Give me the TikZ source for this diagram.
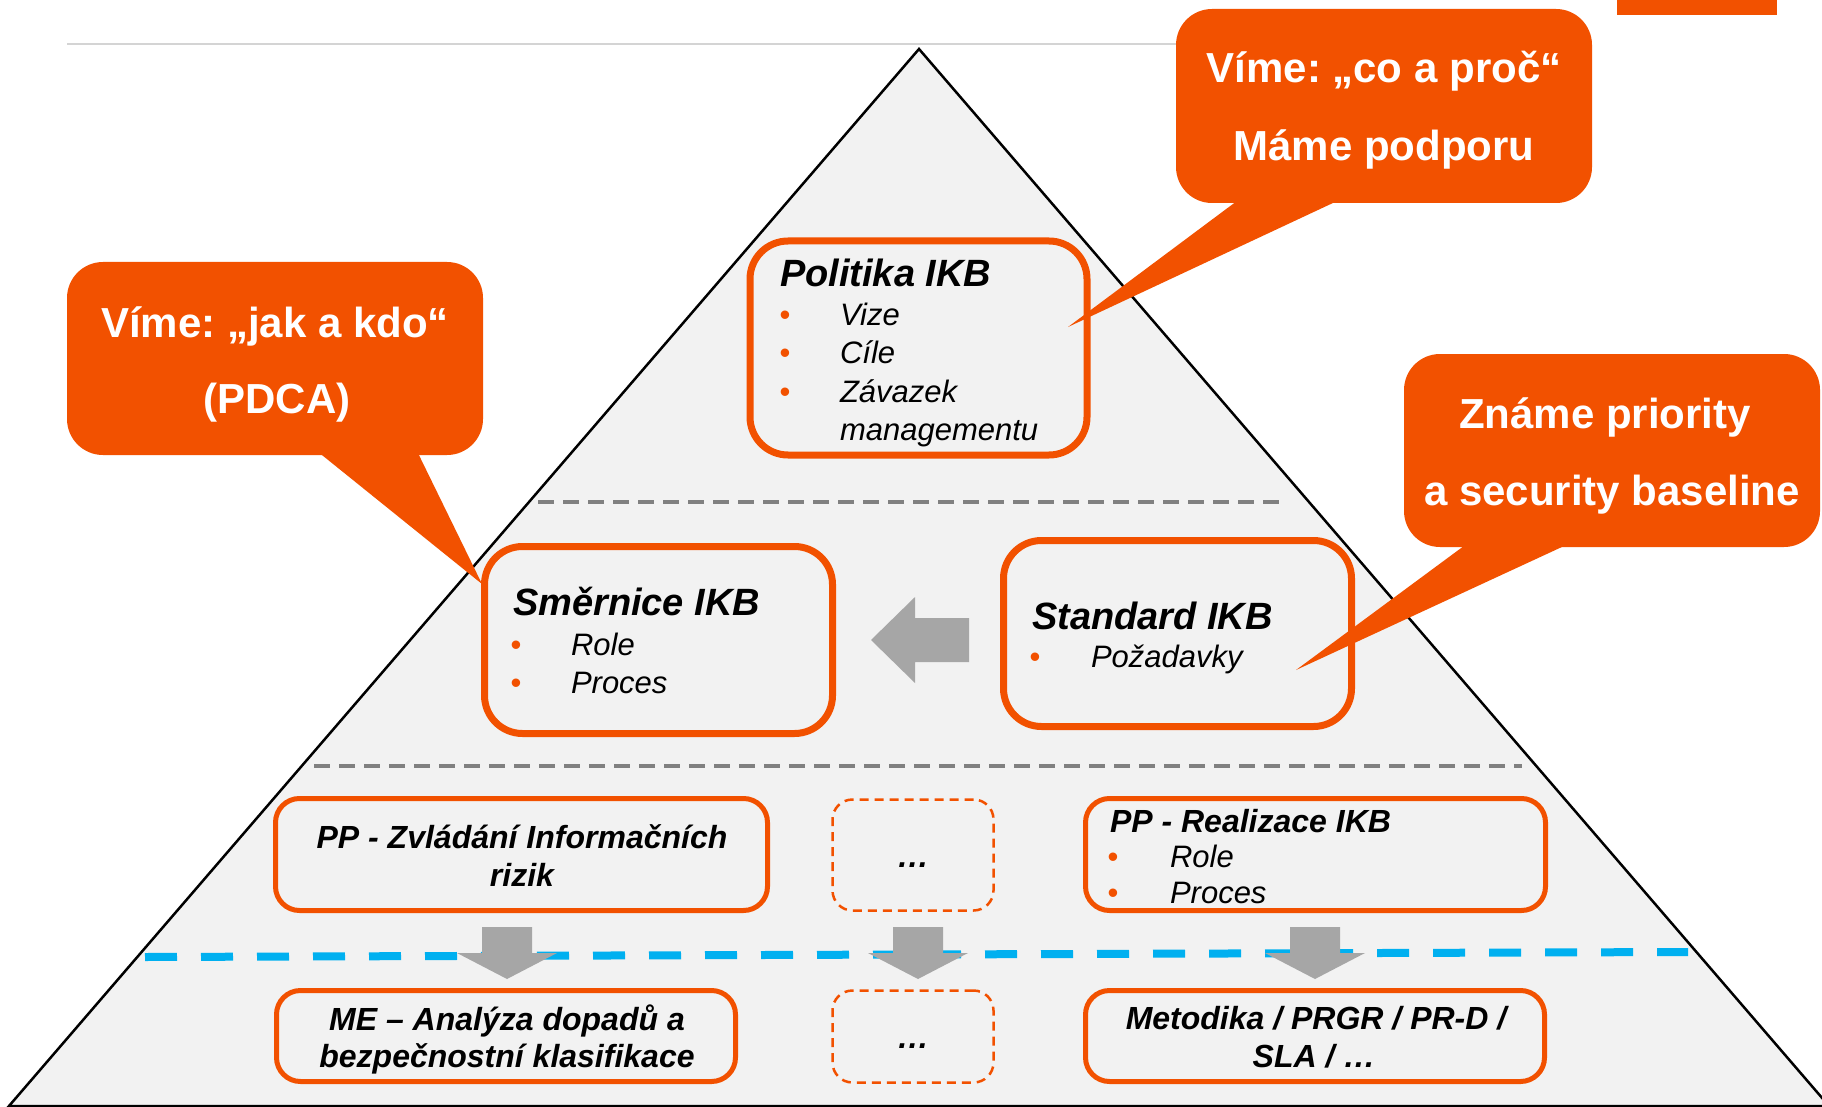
\documentclass[tikz,border=0pt]{standalone}
\usepackage{fontspec}
\setmainfont{Liberation Sans}
\frenchspacing
\definecolor{ikbor}{HTML}{F25100}
\definecolor{pyrfill}{HTML}{F2F2F2}
\definecolor{arrgray}{HTML}{A6A6A6}
\definecolor{dashgray}{HTML}{808080}
\definecolor{ikbblue}{HTML}{00B0F0}
\definecolor{topline}{HTML}{D4D4D4}
\newcommand\fCall{\fontsize{42}{50}\selectfont\bfseries\color{white}}
\newcommand\fTitle{\fontsize{38}{45}\selectfont\bfseries\itshape}
\newcommand\fItem{\fontsize{31}{37}\selectfont\itshape}
\newcommand\fBox{\fontsize{32}{38}\selectfont\bfseries\itshape}
\newcommand\fBul{\fontsize{31}{37}\selectfont\color{ikbor}}
\begin{document}
\begin{tikzpicture}[x=1pt,y=-1pt,
  every node/.style={inner sep=0pt, outer sep=0pt},
  obox/.style={draw=ikbor, line width=7pt, fill=pyrfill, rounded corners=38pt},
  sbox/.style={draw=ikbor, line width=5pt, fill=pyrfill, rounded corners=24pt},
  dbox/.style={draw=ikbor, line width=2.5pt, dash pattern=on 9pt off 6pt, rounded corners=20pt},
  callout/.style={fill=ikbor, rounded corners=36pt},
  txt/.style={anchor=base west},
  ctxt/.style={anchor=base},
  bul/.style={anchor=base}]
\useasboundingbox (0,0) rectangle (1822,1107);
\clip (0,0) rectangle (1822,1107);
\fill[white] (0,0) rectangle (1822,1107);
% top decorations
\draw[topline, line width=2.5pt] (67,44) -- (1190,44);
\fill[ikbor] (1617,0) rectangle (1777,15);
% pyramid
\draw[fill=pyrfill, line width=2.5pt, line join=miter] (919,49) -- (9,1106) -- (1829,1106) -- cycle;
% level separators
\draw[dashgray, line width=3.5pt, dash pattern=on 16pt off 9pt] (538,502) -- (1284,502);
\draw[dashgray, line width=3.5pt, dash pattern=on 16pt off 9pt] (314,766) -- (1522,766);
% boxes
\node[obox, minimum width=337pt, minimum height=214pt] (pol) at (918.5,348) {};
\node[obox, minimum width=348pt, minimum height=187pt] (sme) at (658.5,640) {};
\node[obox, minimum width=348pt, minimum height=186pt] (std) at (1177.5,633.5) {};
\node[sbox, minimum width=492pt, minimum height=112pt] (pp1) at (521.5,854.5) {};
\node[dbox, minimum width=161pt, minimum height=111pt] (pp2) at (913,855) {};
\node[sbox, minimum width=460pt, minimum height=112pt] (pp3) at (1315.5,854.5) {};
\node[sbox, minimum width=459pt, minimum height=91pt] (me1) at (506,1036) {};
\node[dbox, minimum width=161pt, minimum height=92pt] (me2) at (913,1036.5) {};
\node[sbox, minimum width=459pt, minimum height=91pt] (me3) at (1315,1036) {};
% left block arrow standard -> smernice
\fill[arrgray] (871,640) -- (915,597) -- (915,618) -- (969,618) -- (969,662) -- (915,662) -- (915,683) -- cycle;
% blue dashed line
\draw[ikbblue, line width=8pt, dash pattern=on 32pt off 24pt] (145,957) -- (1688,952);
% down arrows
\foreach \cx in {507,918,1315}{
  \fill[arrgray] (\cx-25,927) -- (\cx+25,927) -- (\cx+25,953) -- (\cx+50,953) -- (\cx,979) -- (\cx-50,953) -- (\cx-25,953) -- cycle;
}
% Politika text
\node[txt] (polt) at (780,287) {\fTitle Politika IKB};
\node[bul] (polb1) at (785,325) {\fBul •};
\node[bul] (polb2) at (785,363) {\fBul •};
\node[bul] (polb3) at (785,402) {\fBul •};
\node[txt] (poli1) at (840,325) {\fItem Vize};
\node[txt] (poli2) at (840,363) {\fItem Cíle};
\node[txt] (poli3) at (840,402) {\fItem Závazek};
\node[txt] (poli4) at (840,440) {\fItem managementu};
% Smernice text
\node[txt] (smet) at (513,615) {\fTitle Směrnice IKB};
\node[bul] (smeb1) at (516,655) {\fBul •};
\node[bul] (smeb2) at (516,693) {\fBul •};
\node[txt] (smei1) at (571,655) {\fItem Role};
\node[txt] (smei2) at (571,693) {\fItem Proces};
% Standard text
\node[txt] (stdt) at (1032,629) {\fTitle Standard IKB};
\node[bul] (stdb1) at (1035,667) {\fBul •};
\node[txt] (stdi1) at (1091,667) {\fItem Požadavky};
% bottom row texts
\node[ctxt] (pp1a) at (522,848) {\fBox PP - Zvládání Informačních};
\node[ctxt] (pp1b) at (522,886) {\fBox rizik};
\node[ctxt] (pp2a) at (913,867) {\fBox …};
\node[txt] (pp3t) at (1110,832) {\fBox PP - Realizace IKB};
\node[bul] (pp3b1) at (1113,867) {\fBul •};
\node[bul] (pp3b2) at (1113,903) {\fBul •};
\node[txt] (pp3i1) at (1170,867) {\fItem Role};
\node[txt] (pp3i2) at (1170,903) {\fItem Proces};
\node[ctxt] (me1a) at (507,1030) {\fBox ME – Analýza dopadů a};
\node[ctxt] (me1b) at (507,1067) {\fBox bezpečnostní klasifikace};
\node[ctxt] (me2a) at (913,1048) {\fBox …};
\node[ctxt] (me3a) at (1316,1029) {\fBox Metodika / PRGR / PR-D /};
\node[ctxt] (me3b) at (1314,1067) {\fBox SLA / …};
% callouts
\node[callout, minimum width=416pt, minimum height=194pt] (c1) at (1384,106) {};
\fill[ikbor] (1245,195) -- (1350,195) -- (1068,327) -- cycle;
\node[ctxt] (c1a) at (1384,83) {\fCall Víme: „co a proč“};
\node[ctxt] (c1b) at (1384,161) {\fCall Máme podporu};
\node[callout, minimum width=416pt, minimum height=193pt] (c2) at (275,358.5) {};
\fill[ikbor] (312,447) -- (415,447) -- (482,584) -- cycle;
\node[ctxt] (c2a) at (275,337) {\fCall Víme: „jak a kdo“};
\node[ctxt] (c2b) at (277,413) {\fCall (PDCA)};
\node[callout, minimum width=416pt, minimum height=193pt] (c3) at (1612,450.5) {};
\fill[ikbor] (1472,540) -- (1577,540) -- (1296,670) -- cycle;
\node[ctxt] (c3a) at (1605,428) {\fCall Známe priority};
\node[ctxt] (c3b) at (1612,505) {\fCall a security baseline};
\end{tikzpicture}
\end{document}
